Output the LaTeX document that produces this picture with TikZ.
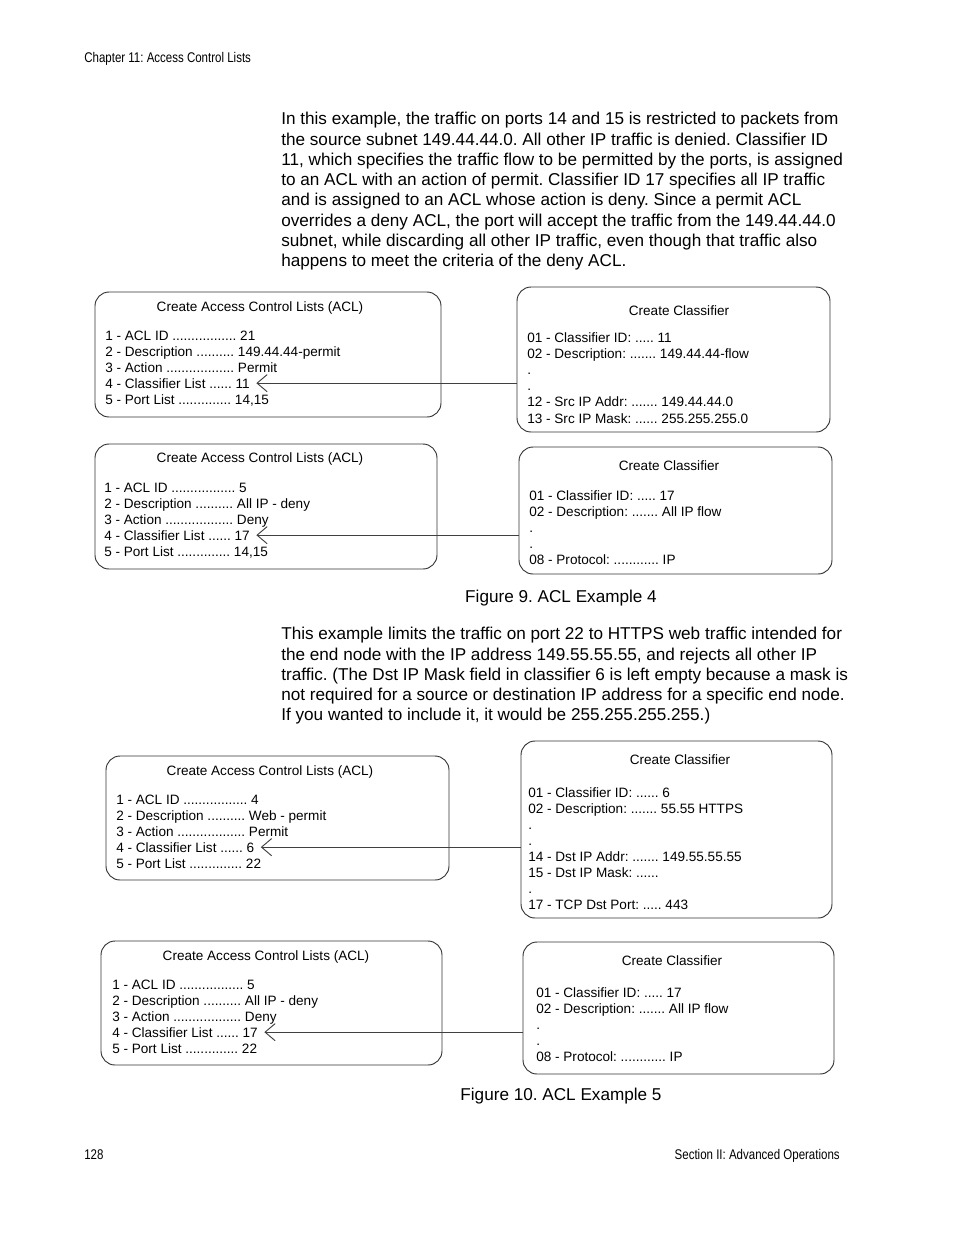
\documentclass[tikz,border=0pt]{standalone}
\usepackage{fontspec}
\setmainfont{Liberation Sans}
\newfontfamily\narrowfont[FakeStretch=0.82]{Liberation Sans}
\usetikzlibrary{arrows.meta, fit, positioning}
\frenchspacing

% a run of n leader dots
\ExplSyntaxOn
\NewDocumentCommand{\dotrun}{m}{\prg_replicate:nn{#1}{.}}
\ExplSyntaxOff

\tikzset{
  boxline/.style={draw=black!80, line width=0.6pt, rounded corners=9pt, inner sep=0pt},
  boxtitle/.style={font=\fontsize{8.7}{10.3}\selectfont, inner sep=0pt},
  item/.style={font=\fontsize{8.7}{10.3}\selectfont, inner sep=0pt, anchor=base west},
  bodytext/.style={font=\fontsize{11}{13}\selectfont, inner sep=0pt, align=left, anchor=north west},
  caption/.style={font=\fontsize{11}{13}\selectfont, inner sep=0pt},
  pagetext/.style={font=\narrowfont\fontsize{9}{10}\selectfont, inner sep=0pt, anchor=base west},
  classlink/.style={draw=black!75, line width=0.6pt, -{Straight Barb[length=6.5pt, width=11pt]}, shorten >=4pt},
}

\begin{document}
\begin{tikzpicture}[x=0.6415pt, y=-0.6415pt]
    \useasboundingbox (0,0) rectangle (954,1235);

    % page header and footer
    \node[pagetext] (header) at (84,62) {Chapter 11: Access Control Lists};
    \node[pagetext] (pagenum) at (84,1159) {128};
    \node[pagetext, anchor=base east] (section) at (840,1159) {Section II: Advanced Operations};

    % first paragraph
    \node[bodytext] (para1) at (281,112) {In this example, the traffic on ports 14 and 15 is restricted to packets from\\
    the source subnet 149.44.44.0. All other IP traffic is denied. Classifier ID\\
    11, which specifies the traffic flow to be permitted by the ports, is assigned\\
    to an ACL with an action of permit. Classifier ID 17 specifies all IP traffic\\
    and is assigned to an ACL whose action is deny. Since a permit ACL\\
    overrides a deny ACL, the port will accept the traffic from the 149.44.44.0\\
    subnet, while discarding all other IP traffic, even though that traffic also\\
    happens to meet the criteria of the deny ACL.};

    % Figure 9, upper pair
    \node[boxline, fit={(95,292) (441,417)}] (acl1) {};
    \node[boxtitle] (acl1title) at (260,308) {Create Access Control Lists (ACL)};
    \foreach \txt [count=\i] in {{1 - ACL ID \dotrun{17} 21}, {2 - Description \dotrun{10} 149.44.44-permit},
        {3 - Action \dotrun{18} Permit}, {4 - Classifier List \dotrun{6} 11}, {5 - Port List \dotrun{14} 14,15}}
        \node[item] (acl1-\i) at (105,{340+16*(\i-1)}) {\txt};

    \node[boxline, fit={(517,287) (830,432)}] (cls1) {};
    \node[boxtitle] (cls1title) at (679,311) {Create Classifier};
    \foreach \txt [count=\i] in {{01 - Classifier ID: \dotrun{5} 11}, {02 - Description: \dotrun{7} 149.44.44-flow},
        {.}, {.}, {12 - Src IP Addr: \dotrun{7} 149.44.44.0}, {13 - Src IP Mask: \dotrun{6} 255.255.255.0}}
        \node[item] (cls1-\i) at (527,{342+16.2*(\i-1)}) {\txt};

    \draw[classlink] (cls1.west |- acl1-4) -- (acl1-4.east);

    % Figure 9, lower pair
    \node[boxline, fit={(95,444) (437,569)}] (acl2) {};
    \node[boxtitle] (acl2title) at (260,459) {Create Access Control Lists (ACL)};
    \foreach \txt [count=\i] in {{1 - ACL ID \dotrun{17} 5}, {2 - Description \dotrun{10} All IP - deny},
        {3 - Action \dotrun{18} Deny}, {4 - Classifier List \dotrun{6} 17}, {5 - Port List \dotrun{14} 14,15}}
        \node[item] (acl2-\i) at (104,{492+16*(\i-1)}) {\txt};

    \node[boxline, fit={(519,447) (832,574)}] (cls2) {};
    \node[boxtitle] (cls2title) at (669,466) {Create Classifier};
    \foreach \txt [count=\i] in {{01 - Classifier ID: \dotrun{5} 17}, {02 - Description: \dotrun{7} All IP flow},
        {.}, {.}, {08 - Protocol: \dotrun{12} IP}}
        \node[item] (cls2-\i) at (529,{500+16.2*(\i-1)}) {\txt};

    \draw[classlink] (cls2.west |- acl2-4) -- (acl2-4.east);

    \node[caption] (fig9) at (561,598) {Figure 9. ACL Example 4};

    % second paragraph
    \node[bodytext] (para2) at (281,627) {This example limits the traffic on port 22 to HTTPS web traffic intended for\\
    the end node with the IP address 149.55.55.55, and rejects all other IP\\
    traffic. (The Dst IP Mask field in classifier 6 is left empty because a mask is\\
    not required for a source or destination IP address for a specific end node.\\
    If you wanted to include it, it would be 255.255.255.255.)};

    % Figure 10, upper pair
    \node[boxline, fit={(106,756) (449,880)}] (acl3) {};
    \node[boxtitle] (acl3title) at (270,772) {Create Access Control Lists (ACL)};
    \foreach \txt [count=\i] in {{1 - ACL ID \dotrun{17} 4}, {2 - Description \dotrun{10} Web - permit},
        {3 - Action \dotrun{18} Permit}, {4 - Classifier List \dotrun{6} 6}, {5 - Port List \dotrun{14} 22}}
        \node[item] (acl3-\i) at (116,{804+16*(\i-1)}) {\txt};

    \node[boxline, fit={(521,741) (832,918)}] (cls3) {};
    \node[boxtitle] (cls3title) at (680,760) {Create Classifier};
    \foreach \txt [count=\i] in {{01 - Classifier ID: \dotrun{6} 6}, {02 - Description: \dotrun{7} 55.55 HTTPS},
        {.}, {.}, {14 - Dst IP Addr: \dotrun{7} 149.55.55.55}, {15 - Dst IP Mask: \dotrun{6}}, {.}, {17 - TCP Dst Port: \dotrun{5} 443}}
        \node[item] (cls3-\i) at (528,{797+16*(\i-1)}) {\txt};

    \draw[classlink] (cls3.west |- acl3-4) -- (acl3-4.east);

    % Figure 10, lower pair
    \node[boxline, fit={(101,941) (442,1065)}] (acl4) {};
    \node[boxtitle] (acl4title) at (266,957) {Create Access Control Lists (ACL)};
    \foreach \txt [count=\i] in {{1 - ACL ID \dotrun{17} 5}, {2 - Description \dotrun{10} All IP - deny},
        {3 - Action \dotrun{18} Deny}, {4 - Classifier List \dotrun{6} 17}, {5 - Port List \dotrun{14} 22}}
        \node[item] (acl4-\i) at (112,{989+16*(\i-1)}) {\txt};

    \node[boxline, fit={(523,942) (834,1074)}] (cls4) {};
    \node[boxtitle] (cls4title) at (672,961) {Create Classifier};
    \foreach \txt [count=\i] in {{01 - Classifier ID: \dotrun{5} 17}, {02 - Description: \dotrun{7} All IP flow},
        {.}, {.}, {08 - Protocol: \dotrun{12} IP}}
        \node[item] (cls4-\i) at (536,{997+16*(\i-1)}) {\txt};

    \draw[classlink] (cls4.west |- acl4-4) -- (acl4-4.east);

    \node[caption] (fig10) at (561,1096) {Figure 10. ACL Example 5};
\end{tikzpicture}
\end{document}
